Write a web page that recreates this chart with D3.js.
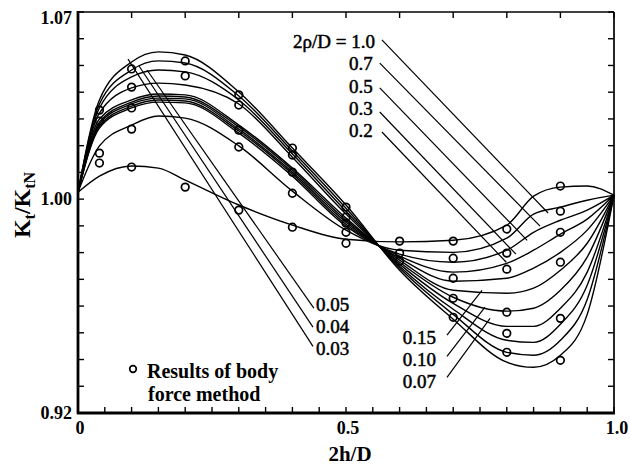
<!DOCTYPE html>
<html>
<head>
<meta charset="utf-8">
<script src="https://cdn.jsdelivr.net/npm/d3@7"></script>
<style>
  body { margin: 0; background: #fff; }
  text { font-family: "Liberation Serif", "Times New Roman", serif; fill: #000; }
</style>
</head>
<body>
<div id="chart"></div>
<script>
// x positions (2h/D) where the curves were read
const xKnots = [0, 0.04, 0.1, 0.15, 0.2, 0.3, 0.4, 0.5, 0.6, 0.7, 0.8, 0.85, 0.9, 0.95, 1.0];

// Kt/KtN curves, one per 2rho/D
const rho100 = [1.0026, 1.0086, 1.0124, 1.0116, 1.0071, 0.9978, 0.9903, 0.9850, 0.9840, 0.9846, 0.9903, 1.0011, 1.0045, 1.0049, 1.0015];
const rho070 = [1.0026, 1.0199, 1.0277, 1.0311, 1.0303, 1.0199, 1.0030, 0.9884, 0.9809, 0.9801, 0.9854, 0.9944, 0.9970, 0.9996, 1.0015];
const rho050 = [1.0026, 1.0266, 1.0341, 1.0363, 1.0360, 1.0247, 1.0086, 0.9899, 0.9794, 0.9764, 0.9809, 0.9876, 0.9921, 0.9959, 1.0015];
const rho030 = [1.0026, 1.0273, 1.0348, 1.0371, 1.0367, 1.0255, 1.0094, 0.9906, 0.9787, 0.9727, 0.9760, 0.9809, 0.9869, 0.9925, 1.0015];
const rho020 = [1.0026, 1.0281, 1.0356, 1.0378, 1.0375, 1.0262, 1.0101, 0.9914, 0.9779, 0.9693, 0.9704, 0.9742, 0.9801, 0.9884, 1.0015];
const rho015 = [1.0026, 1.0288, 1.0363, 1.0386, 1.0382, 1.0270, 1.0109, 0.9921, 0.9772, 0.9659, 0.9648, 0.9667, 0.9734, 0.9835, 1.0015];
const rho010 = [1.0026, 1.0300, 1.0371, 1.0393, 1.0390, 1.0277, 1.0116, 0.9929, 0.9764, 0.9633, 0.9581, 0.9592, 0.9659, 0.9783, 1.0015];
const rho007 = [1.0026, 1.0322, 1.0416, 1.0434, 1.0427, 1.0356, 1.0157, 0.9944, 0.9757, 0.9610, 0.9524, 0.9524, 0.9592, 0.9727, 1.0015];
const rho005 = [1.0026, 1.0341, 1.0457, 1.0483, 1.0476, 1.0371, 1.0169, 0.9955, 0.9749, 0.9588, 0.9472, 0.9464, 0.9532, 0.9678, 1.0015];
const rho004 = [1.0026, 1.0356, 1.0483, 1.0517, 1.0509, 1.0386, 1.0180, 0.9966, 0.9742, 0.9569, 0.9427, 0.9416, 0.9472, 0.9625, 1.0015];
const rho003 = [1.0026, 1.0371, 1.0513, 1.0551, 1.0539, 1.0401, 1.0191, 0.9978, 0.9734, 0.9551, 0.9390, 0.9371, 0.9416, 0.9569, 1.0015];

// body force method results
const pointX = [0.04, 0.04, 0.04, 0.04,
                0.1, 0.1, 0.1, 0.1, 0.1,
                0.2, 0.2, 0.2,
                0.3, 0.3, 0.3, 0.3, 0.3,
                0.4, 0.4, 0.4, 0.4, 0.4,
                0.5, 0.5, 0.5, 0.5, 0.5,
                0.6, 0.6, 0.6,
                0.7, 0.7, 0.7, 0.7, 0.7,
                0.8, 0.8, 0.8, 0.8, 0.8, 0.8,
                0.9, 0.9, 0.9, 0.9, 0.9, 0.9];
const pointY = [1.0333, 1.0292, 1.0172, 1.0135,
                1.0487, 1.0419, 1.0341, 1.0262, 1.0120,
                1.0517, 1.0461, 1.0045,
                1.0390, 1.0352, 1.0258, 1.0195, 0.9959,
                1.0191, 1.0165, 1.0101, 1.0022, 0.9895,
                0.9970, 0.9933, 0.9910, 0.9876, 0.9835,
                0.9843, 0.9798, 0.9768,
                0.9843, 0.9779, 0.9704, 0.9629, 0.9558,
                0.9888, 0.9798, 0.9738, 0.9577, 0.9498, 0.9427,
                1.0049, 0.9955, 0.9876, 0.9764, 0.9554, 0.9397];

// curve labels and their leader lines (data units)
const labelText = ["2\u03c1/D = 1.0", "0.7", "0.5", "0.3", "0.2", "0.15", "0.10", "0.07", "0.05", "0.04", "0.03"];
const labelX    = [0.554, 0.550, 0.550, 0.550, 0.550, 0.668, 0.668, 0.668, 0.444, 0.444, 0.444];
const labelY    = [1.0590, 1.0507, 1.0423, 1.0340, 1.0256, 0.9483, 0.9401, 0.9318, 0.9607, 0.9524, 0.9442];
const labelSide = ["end", "end", "end", "end", "end", "end", "end", "end", "start", "start", "start"];
const leaderX1  = [0.567, 0.563, 0.563, 0.563, 0.567, 0.6884, 0.6884, 0.6884, 0.4400, 0.4384, 0.4384];
const leaderY1  = [1.0596, 1.0509, 1.0416, 1.0326, 1.0251, 0.9491, 0.9412, 0.9333, 0.9592, 0.9521, 0.9449];
const leaderX2  = [0.877, 0.862, 0.838, 0.817, 0.799, 0.7537, 0.7593, 0.7687, 0.1287, 0.1138, 0.0933];
const leaderY2  = [0.9948, 0.9899, 0.9846, 0.9794, 0.9764, 0.9659, 0.9596, 0.9554, 1.0483, 1.0498, 1.0524];

const yTickLabels = [0.92, 1.00, 1.07];
const xTickLabels = [0, 0.5, 1.0];

const series = [rho100, rho070, rho050, rho030, rho020, rho015, rho010, rho007, rho005, rho004, rho003];
const points = pointX.map((x, i) => ({x: x, y: pointY[i]}));

const W = 630, H = 473;
const margin = {left: 78, right: 16, top: 12, bottom: 60};

const svg = d3.select("#chart").append("svg")
    .attr("width", W).attr("height", H);

const x = d3.scaleLinear().domain([0, 1]).range([margin.left, W - margin.right]);
const y = d3.scaleLinear().domain([0.92, 1.07]).range([H - margin.bottom, margin.top]);

// inward ticks on all four sides
const tickLen = 6;
const yTicks = d3.range(92, 108).map(d => d / 100);
svg.append("g").selectAll("line").data(yTicks).enter().append("line")
    .attr("x1", x(0)).attr("x2", x(0) + tickLen)
    .attr("y1", d => y(d)).attr("y2", d => y(d))
    .attr("stroke", "#000").attr("stroke-width", 1.4);
svg.append("g").selectAll("line").data(yTicks).enter().append("line")
    .attr("x1", x(1)).attr("x2", x(1) - tickLen)
    .attr("y1", d => y(d)).attr("y2", d => y(d))
    .attr("stroke", "#000").attr("stroke-width", 1.4);
const xTicksBottom = d3.range(0, 21).map(d => d / 20);
svg.append("g").selectAll("line").data(xTicksBottom).enter().append("line")
    .attr("x1", d => x(d)).attr("x2", d => x(d))
    .attr("y1", y(0.92)).attr("y2", y(0.92) - tickLen)
    .attr("stroke", "#000").attr("stroke-width", 1.4);
const xTicksTop = d3.range(0, 11).map(d => d / 10);
svg.append("g").selectAll("line").data(xTicksTop).enter().append("line")
    .attr("x1", d => x(d)).attr("x2", d => x(d))
    .attr("y1", y(1.07)).attr("y2", y(1.07) + tickLen)
    .attr("stroke", "#000").attr("stroke-width", 1.4);

// frame
svg.append("line").attr("x1", x(0)).attr("x2", x(1)).attr("y1", y(1.07)).attr("y2", y(1.07))
    .attr("stroke", "#000").attr("stroke-width", 1.7);
svg.append("line").attr("x1", x(1)).attr("x2", x(1)).attr("y1", y(1.07)).attr("y2", y(0.92))
    .attr("stroke", "#000").attr("stroke-width", 1.7);
svg.append("line").attr("x1", x(0)).attr("x2", x(0)).attr("y1", y(1.07) - 1).attr("y2", y(0.92) + 1)
    .attr("stroke", "#000").attr("stroke-width", 2.8);
svg.append("line").attr("x1", x(0) - 1).attr("x2", x(1) + 1).attr("y1", y(0.92)).attr("y2", y(0.92))
    .attr("stroke", "#000").attr("stroke-width", 2.8);

// tick labels
svg.append("g").selectAll("text").data(yTickLabels).enter().append("text")
    .attr("x", x(0) - 6)
    .attr("y", d => d === 1.07 ? y(d) + 6 : y(d))
    .attr("dy", "0.35em")
    .attr("text-anchor", "end")
    .style("font-size", "18px").style("font-weight", "bold")
    .text(d => d.toFixed(2));
svg.append("g").selectAll("text").data(xTickLabels).enter().append("text")
    .attr("x", d => x(d) + (d === 1 ? 3 : 2))
    .attr("y", y(0.92) + 21)
    .attr("text-anchor", "middle")
    .style("font-size", "18px").style("font-weight", "bold")
    .text(d => d === 0 ? "0" : d.toFixed(1));

// axis titles
svg.append("text")
    .attr("x", 350).attr("y", 461)
    .attr("text-anchor", "middle")
    .style("font-size", "21px").style("font-weight", "bold")
    .text("2h/D");

const yTitle = svg.append("text")
    .attr("transform", "translate(30,205) rotate(-90)")
    .attr("text-anchor", "middle")
    .style("font-size", "24px").style("font-weight", "bold");
yTitle.append("tspan").text("K");
yTitle.append("tspan").attr("dy", 5).style("font-size", "16px").text("t");
yTitle.append("tspan").attr("dy", -5).text("/K");
yTitle.append("tspan").attr("dy", 5).style("font-size", "16px").text("tN");

// curves
const line = d3.line()
    .x((d, i) => x(xKnots[i]))
    .y(d => y(d))
    .curve(d3.curveMonotoneX);

svg.append("g").selectAll("path").data(series).enter().append("path")
    .attr("d", d => line(d))
    .attr("fill", "none")
    .attr("stroke", "#000")
    .attr("stroke-width", 1.4);

// leader lines
svg.append("g").selectAll("line").data(labelText).enter().append("line")
    .attr("x1", (d, i) => x(leaderX1[i])).attr("y1", (d, i) => y(leaderY1[i]))
    .attr("x2", (d, i) => x(leaderX2[i])).attr("y2", (d, i) => y(leaderY2[i]))
    .attr("stroke", "#000").attr("stroke-width", 1.2);

// curve labels
svg.append("g").selectAll("text").data(labelText).enter().append("text")
    .attr("x", (d, i) => x(labelX[i]))
    .attr("y", (d, i) => y(labelY[i]))
    .attr("dy", "0.35em")
    .attr("text-anchor", (d, i) => labelSide[i])
    .style("font-size", "19px")
    .style("stroke", "#000").style("stroke-width", 0.5)
    .text(d => d);

// body force method points
svg.append("g").selectAll("circle").data(points).enter().append("circle")
    .attr("cx", d => x(d.x)).attr("cy", d => y(d.y))
    .attr("r", 3.8)
    .attr("fill", "none")
    .attr("stroke", "#000")
    .attr("stroke-width", 1.7);

// legend
svg.append("circle").attr("cx", 133).attr("cy", 369).attr("r", 3.3)
    .attr("fill", "none").attr("stroke", "#000").attr("stroke-width", 1.7);
svg.append("text").attr("x", 147).attr("y", 378)
    .style("font-size", "20px").style("font-weight", "bold")
    .text("Results of body");
svg.append("text").attr("x", 148).attr("y", 401)
    .style("font-size", "20px").style("font-weight", "bold")
    .text("force method");
</script>
</body>
</html>
